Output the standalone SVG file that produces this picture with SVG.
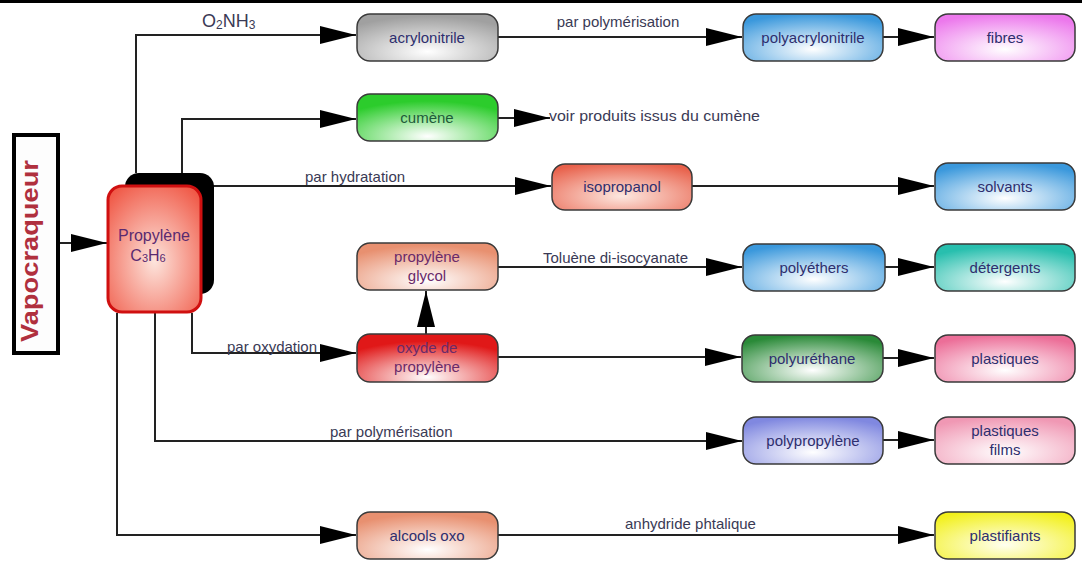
<svg xmlns="http://www.w3.org/2000/svg" width="1082" height="562" viewBox="0 0 1082 562">
<style>
.n{stroke:#3a3a3a;stroke-width:1.5}
.t{font-family:"Liberation Sans",Arial,sans-serif;font-size:15px;fill:#2e2e6e;text-anchor:middle}
.l{font-family:"Liberation Sans",Arial,sans-serif;font-size:15px;fill:#3a3a55}
.c{fill:none;stroke:#222;stroke-width:2}
</style>
<defs>
<marker id="arr" markerUnits="userSpaceOnUse" markerWidth="37" markerHeight="19" refX="36" refY="9" orient="auto">
<path d="M0,0 L36,9 L0,18 z" fill="#000"/>
</marker>
<radialGradient id="gGray" cx="50%" cy="80%" r="75%"><stop offset="0" stop-color="#fff"/><stop offset="1" stop-color="#a0a0a0"/></radialGradient>
<radialGradient id="gGreen" cx="50%" cy="90%" r="75%"><stop offset="0" stop-color="#fff"/><stop offset="1" stop-color="#2ccc2c"/></radialGradient>
<radialGradient id="gIso" cx="50%" cy="70%" r="75%"><stop offset="0" stop-color="#fde8e0"/><stop offset="1" stop-color="#e8604a"/></radialGradient>
<radialGradient id="gPeach" cx="50%" cy="80%" r="75%"><stop offset="0" stop-color="#fff"/><stop offset="1" stop-color="#e89070"/></radialGradient>
<radialGradient id="gRed" cx="50%" cy="90%" r="75%"><stop offset="0" stop-color="#fff"/><stop offset="1" stop-color="#e01818"/></radialGradient>
<radialGradient id="gBlue" cx="50%" cy="75%" r="75%"><stop offset="0" stop-color="#fff"/><stop offset="1" stop-color="#3a98dc"/></radialGradient>
<radialGradient id="gMag" cx="50%" cy="75%" r="75%"><stop offset="0" stop-color="#fff"/><stop offset="1" stop-color="#ec78ec"/></radialGradient>
<radialGradient id="gTeal" cx="50%" cy="80%" r="75%"><stop offset="0" stop-color="#fff"/><stop offset="1" stop-color="#28bfae"/></radialGradient>
<radialGradient id="gDkGreen" cx="50%" cy="75%" r="75%"><stop offset="0" stop-color="#fff"/><stop offset="1" stop-color="#2a8a38"/></radialGradient>
<radialGradient id="gPink" cx="50%" cy="75%" r="75%"><stop offset="0" stop-color="#fff"/><stop offset="1" stop-color="#ec6e98"/></radialGradient>
<radialGradient id="gLav" cx="50%" cy="75%" r="75%"><stop offset="0" stop-color="#fff"/><stop offset="1" stop-color="#8088e0"/></radialGradient>
<radialGradient id="gLPink" cx="50%" cy="75%" r="75%"><stop offset="0" stop-color="#fff"/><stop offset="1" stop-color="#f098b4"/></radialGradient>
<radialGradient id="gYel" cx="50%" cy="70%" r="75%"><stop offset="0" stop-color="#fffff0"/><stop offset="1" stop-color="#f2f01a"/></radialGradient>
<radialGradient id="gProp" cx="50%" cy="60%" r="70%"><stop offset="0" stop-color="#fde4dc"/><stop offset="1" stop-color="#f05a48"/></radialGradient>
</defs>
<rect x="0" y="0" width="1082" height="562" fill="#fff"/>
<rect x="0" y="0" width="1082" height="3" fill="#000"/>

<g id="connectors">
<path class="c" d="M60,243 H107" marker-end="url(#arr)"/>
<path class="c" d="M136,173 V35 H356" marker-end="url(#arr)"/>
<path class="c" d="M182,173 V119 H356" marker-end="url(#arr)"/>
<path class="c" d="M213,186 H551" marker-end="url(#arr)"/>
<path class="c" d="M192,313 V353 H356" marker-end="url(#arr)"/>
<path class="c" d="M155,313 V441 H742" marker-end="url(#arr)"/>
<path class="c" d="M117,313 V535 H356" marker-end="url(#arr)"/>
<path class="c" d="M498,37 H742" marker-end="url(#arr)"/>
<path class="c" d="M883,37 H934" marker-end="url(#arr)"/>
<path class="c" d="M498,118 H550" marker-end="url(#arr)"/>
<path class="c" d="M692,186 H934" marker-end="url(#arr)"/>
<path class="c" d="M498,267 H742" marker-end="url(#arr)"/>
<path class="c" d="M885,267 H934" marker-end="url(#arr)"/>
<path class="c" d="M426,334 V291" marker-end="url(#arr)"/>
<path class="c" d="M498,357 H741" marker-end="url(#arr)"/>
<path class="c" d="M883,358 H934" marker-end="url(#arr)"/>
<path class="c" d="M883,440 H934" marker-end="url(#arr)"/>
<path class="c" d="M498,535 H934" marker-end="url(#arr)"/>
<text class="l" x="202" y="27" style="font-size:18px">O<tspan style="font-size:12px" dy="2">2</tspan><tspan dy="-2">NH</tspan><tspan style="font-size:12px" dy="2">3</tspan></text>
<text class="l" x="618" y="27" text-anchor="middle">par polymérisation</text>
<text class="l" x="549" y="121" textLength="211" lengthAdjust="spacingAndGlyphs">voir produits issus du cumène</text>
<text class="l" x="305" y="182">par hydratation</text>
<text class="l" x="543" y="263">Toluène di-isocyanate</text>
<text class="l" x="227" y="352">par oxydation</text>
<text class="l" x="330" y="437">par polymérisation</text>
<text class="l" x="625" y="529">anhydride phtalique</text>
</g>

<g id="vapocraqueur">
<rect x="14" y="135" width="44" height="218" fill="#fdfdfd" stroke="#000" stroke-width="4"/>
<text transform="translate(38,251) rotate(-90)" text-anchor="middle" font-family="Liberation Sans, Arial, sans-serif" font-weight="bold" font-size="24" fill="#b0303e" textLength="182" lengthAdjust="spacingAndGlyphs">Vapocraqueur</text>
</g>

<g id="propylene">
<rect x="125" y="173" width="89" height="121" rx="14" fill="#000"/>
<rect x="108" y="186" width="93" height="126" rx="14" fill="url(#gProp)" stroke="#d01010" stroke-width="3"/>
<text class="t" x="154" y="241" style="font-size:16px;fill:#5a2a70">Propylène</text>
<text class="t" x="148" y="261" style="font-size:16px;fill:#5a2a70">C<tspan style="font-size:11px" dy="1">3</tspan><tspan dy="-1">H</tspan><tspan style="font-size:11px" dy="1">6</tspan></text>
</g>

<g id="acrylonitrile"><rect class="n" x="357" y="14" width="141" height="47" rx="13" fill="url(#gGray)"/><text class="t" x="427" y="43">acrylonitrile</text></g>
<g id="cumene"><rect class="n" x="357" y="94" width="141" height="47" rx="13" fill="url(#gGreen)" stroke="#bbb"/><text class="t" x="427" y="123" style="fill:#1e5a3a">cumène</text></g>
<g id="isopropanol"><rect class="n" x="552" y="164" width="140" height="46" rx="13" fill="url(#gIso)"/><text class="t" x="622" y="192">isopropanol</text></g>
<g id="glycol"><rect class="n" x="357" y="243" width="141" height="47" rx="13" fill="url(#gPeach)"/><text class="t" x="427" y="262" style="fill:#6a2a6a">propylène</text><text class="t" x="427" y="281" style="fill:#6a2a6a">glycol</text></g>
<g id="oxyde"><rect class="n" x="357" y="334" width="141" height="48" rx="13" fill="url(#gRed)"/><text class="t" x="427" y="353" style="fill:#6a2a6a">oxyde de</text><text class="t" x="427" y="372" style="fill:#6a2a6a">propylène</text></g>
<g id="alcools"><rect class="n" x="357" y="512" width="141" height="47" rx="13" fill="url(#gPeach)"/><text class="t" x="427" y="541">alcools oxo</text></g>
<g id="polyacrylonitrile"><rect class="n" x="743" y="14" width="140" height="47" rx="13" fill="url(#gBlue)"/><text class="t" x="813" y="43">polyacrylonitrile</text></g>
<g id="fibres"><rect class="n" x="935" y="14" width="140" height="47" rx="13" fill="url(#gMag)"/><text class="t" x="1005" y="43">fibres</text></g>
<g id="solvants"><rect class="n" x="935" y="163" width="140" height="47" rx="13" fill="url(#gBlue)"/><text class="t" x="1005" y="192">solvants</text></g>
<g id="polyethers"><rect class="n" x="743" y="244" width="142" height="47" rx="13" fill="url(#gBlue)"/><text class="t" x="814" y="273">polyéthers</text></g>
<g id="detergents"><rect class="n" x="935" y="244" width="140" height="47" rx="13" fill="url(#gTeal)"/><text class="t" x="1005" y="273">détergents</text></g>
<g id="polyurethane"><rect class="n" x="742" y="335" width="141" height="47" rx="13" fill="url(#gDkGreen)"/><text class="t" x="812" y="364">polyuréthane</text></g>
<g id="plastiques"><rect class="n" x="935" y="335" width="140" height="47" rx="13" fill="url(#gPink)"/><text class="t" x="1005" y="364">plastiques</text></g>
<g id="polypropylene"><rect class="n" x="743" y="417" width="140" height="47" rx="13" fill="url(#gLav)"/><text class="t" x="813" y="446">polypropylène</text></g>
<g id="plastiquesfilms"><rect class="n" x="935" y="417" width="140" height="47" rx="13" fill="url(#gLPink)"/><text class="t" x="1005" y="436">plastiques</text><text class="t" x="1005" y="455">films</text></g>
<g id="plastifiants"><rect class="n" x="935" y="512" width="140" height="47" rx="13" fill="url(#gYel)"/><text class="t" x="1005" y="541">plastifiants</text></g>
</svg>
